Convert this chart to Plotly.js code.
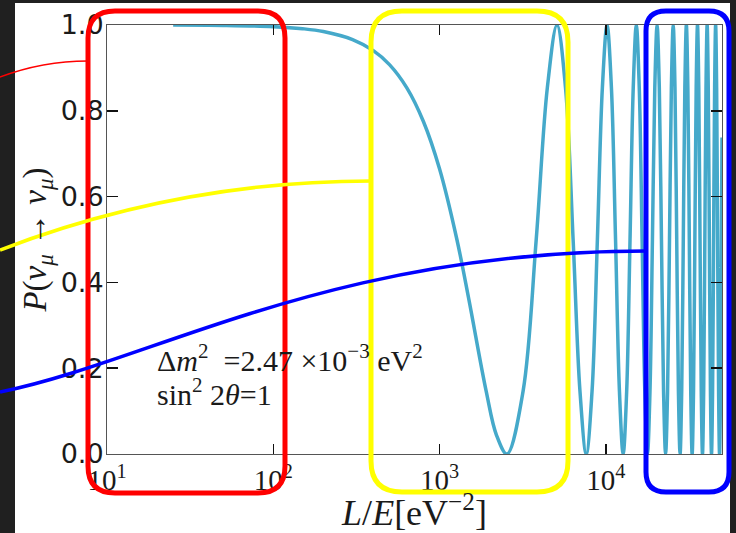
<!DOCTYPE html>
<html>
<head>
<meta charset="utf-8">
<script src="https://cdn.plot.ly/plotly-3.0.1.min.js"></script>
<style>
  html, body { margin: 0; padding: 0; background: #202020; }
  #chart { width: 736px; height: 533px; }
</style>
</head>
<body>
<div id="chart"></div>
<script>
// ---- data ----
const lOverE = [25, 50, 100, 150, 200, 300, 400, 500, 636, 800, 1000, 1272, 1500, 1908, 2200, 2544,
  3180, 3816, 4452, 5088, 5724, 6360, 6995, 7631,
  8267, 8903, 9539, 10175, 10811, 11447, 12083, 12719,
  13355, 13991, 14627, 15263, 15899, 16535, 17171, 17807,
  18443, 19079, 19714, 20350, 20986, 21622, 22258, 22894,
  23530, 24166, 24802, 25438, 26074, 26710, 27346, 27982,
  28618, 29254, 29890, 30526, 31162, 31798, 32433, 33069,
  33705, 34341, 34977, 35613, 36249, 36885, 37521, 38157,
  38793, 39429, 40065, 40701, 41337, 41973, 42609, 43245,
  43881, 44517, 45152, 45788, 46424, 47060, 47696, 48332,
  48968, 49604, 50000];
const survivalProb = [0.9998, 0.999, 0.9962, 0.9914, 0.9848, 0.9661, 0.9402, 0.9077, 0.8536, 0.7751, 0.6648, 0.5, 0.3609, 0.1464, 0.0441, 0,
  0.146, 0.5, 0.854, 1, 0.854, 0.5, 0.146, 0,
  0.146, 0.5, 0.854, 1, 0.854, 0.5, 0.146, 0,
  0.146, 0.5, 0.854, 1, 0.854, 0.5, 0.146, 0,
  0.146, 0.5, 0.854, 1, 0.854, 0.5, 0.146, 0,
  0.146, 0.5, 0.854, 1, 0.854, 0.5, 0.146, 0,
  0.146, 0.5, 0.854, 1, 0.854, 0.5, 0.146, 0,
  0.146, 0.5, 0.854, 1, 0.854, 0.5, 0.146, 0,
  0.146, 0.5, 0.854, 1, 0.854, 0.5, 0.146, 0,
  0.146, 0.5, 0.854, 1, 0.854, 0.5, 0.146, 0,
  0.146, 0.5, 0.7375];
const xMajorVals = [10, 100, 1000, 10000];
const xMajorText = ['10<sup>1</sup>', '10<sup>2</sup>', '10<sup>3</sup>', '10<sup>4</sup>'];
const xMinorVals = [20, 30, 40, 50, 60, 70, 80, 90, 200, 300, 400, 500, 600, 700, 800, 900,
  2000, 3000, 4000, 5000, 6000, 7000, 8000, 9000, 20000, 30000, 40000];
const yTickVals = [0, 0.2, 0.4, 0.6, 0.8, 1.0];
const yTickText = ['0.0', '0.2', '0.4', '0.6', '0.8', '1.0'];
const paramLine1 = 'Δ<i>m</i><sup>2</sup>  =2.47 ×10<sup>−3</sup> eV<sup>2</sup>';
const paramLine2 = 'sin<sup>2</sup> 2<i>θ</i>=1';

// ---- geometry helpers (pixel -> paper) ----
const W = 736, H = 533, L = 107, R = 14, T = 25, B = 79;
const PW = W - L - R, PH = H - T - B;
const px = x => (x - L) / PW;
const py = y => 1 - (y - T) / PH;
const pt = (x, y) => px(x).toFixed(5) + ',' + py(y).toFixed(5);
function roundRect(x0, y0, x1, y1, r) {
  return 'M' + pt(x0 + r, y0) + ' L' + pt(x1 - r, y0) + ' Q' + pt(x1, y0) + ' ' + pt(x1, y0 + r) +
    ' L' + pt(x1, y1 - r) + ' Q' + pt(x1, y1) + ' ' + pt(x1 - r, y1) +
    ' L' + pt(x0 + r, y1) + ' Q' + pt(x0, y1) + ' ' + pt(x0, y1 - r) +
    ' L' + pt(x0, y0 + r) + ' Q' + pt(x0, y0) + ' ' + pt(x0 + r, y0) + ' Z';
}

const serif = 'Liberation Serif, Times New Roman, serif';
const ink = '#1a1a1a';
const xRange = [1, 4.699];

const trace = {
  x: lOverE, y: survivalProb, type: 'scatter', mode: 'lines',
  line: { color: '#45a9ca', width: 3.5, shape: 'spline', smoothing: 1 },
  hoverinfo: 'skip', showlegend: false
};

const layout = {
  width: W, height: H,
  margin: { l: L, r: R, t: T, b: B, pad: 0 },
  paper_bgcolor: '#202020', plot_bgcolor: '#ffffff',
  showlegend: false,
  xaxis: {
    type: 'log', range: xRange, tickmode: 'array', tickvals: xMajorVals, ticktext: xMajorText,
    ticks: 'inside', ticklen: 10, tickwidth: 1.5, tickcolor: '#111',
    showline: true, linecolor: '#555', linewidth: 1, mirror: 'ticks',
    showgrid: false, zeroline: false,
    tickfont: { family: serif, size: 29, color: ink },
    title: { text: '<i>L</i>/<i>E</i>[eV<sup>−2</sup>]', font: { family: serif, size: 36, color: ink }, standoff: 5 }
  },
  xaxis2: {
    type: 'log', range: xRange, overlaying: 'x', anchor: 'y', side: 'bottom',
    tickmode: 'array', tickvals: xMinorVals, showticklabels: false,
    ticks: 'inside', ticklen: 5, tickwidth: 1.2, tickcolor: '#111',
    showline: false, mirror: 'ticks', showgrid: false, zeroline: false
  },
  yaxis: {
    range: [0, 1], tickmode: 'array', tickvals: yTickVals, ticktext: yTickText,
    ticks: 'inside', ticklen: 11, tickwidth: 1.5, tickcolor: '#111',
    showline: true, linecolor: '#555', linewidth: 1, mirror: 'ticks',
    showgrid: false, zeroline: false, ticklabelstandoff: -3,
    tickfont: { family: 'DejaVu Sans, sans-serif', size: 27, color: ink },
    title: { text: '<i>P</i>(<i>ν</i><sub><i>μ</i></sub> → <i>ν</i><sub><i>μ</i></sub>)', font: { family: serif, size: 33, color: ink }, standoff: 4 }
  },
  annotations: [
    { xref: 'paper', yref: 'paper', x: px(155), y: py(358), xanchor: 'left', yanchor: 'middle',
      text: paramLine1, showarrow: false, font: { family: serif, size: 30, color: ink } },
    { xref: 'paper', yref: 'paper', x: px(155), y: py(392), xanchor: 'left', yanchor: 'middle',
      text: paramLine2, showarrow: false, font: { family: serif, size: 30, color: ink } }
  ],
  shapes: [
    // white figure sheet on the dark page
    { type: 'rect', xref: 'paper', yref: 'paper', layer: 'below',
      x0: px(15), x1: px(730), y0: py(540), y1: py(3), fillcolor: '#ffffff', line: { width: 0 } },
    // highlight boxes
    { type: 'path', xref: 'paper', yref: 'paper', path: roundRect(88, 11, 285, 493, 27),
      line: { color: '#ff0000', width: 5 }, fillcolor: 'rgba(0,0,0,0)' },
    { type: 'path', xref: 'paper', yref: 'paper', path: roundRect(371, 11, 568, 492, 31),
      line: { color: '#ffff00', width: 5 }, fillcolor: 'rgba(0,0,0,0)' },
    { type: 'path', xref: 'paper', yref: 'paper', path: roundRect(646, 11, 729, 492, 20),
      line: { color: '#0000ff', width: 5 }, fillcolor: 'rgba(0,0,0,0)' },
    // connector curves
    { type: 'path', xref: 'paper', yref: 'paper', path: 'M' + pt(-5, 79) + ' Q' + pt(40, 61) + ' ' + pt(88, 61),
      line: { color: '#ff0000', width: 1.5 } },
    { type: 'path', xref: 'paper', yref: 'paper', path: 'M' + pt(0, 250) + ' Q' + pt(180, 181) + ' ' + pt(371, 181),
      line: { color: '#ffff00', width: 3.5 } },
    { type: 'path', xref: 'paper', yref: 'paper', path: 'M' + pt(0, 392) + ' C' + pt(150, 362) + ' ' + pt(330, 251) + ' ' + pt(646, 251),
      line: { color: '#0000ff', width: 3.5 } }
  ]
};

Plotly.newPlot('chart', [trace], layout, { displayModeBar: false, staticPlot: true });
</script>
</body>
</html>
